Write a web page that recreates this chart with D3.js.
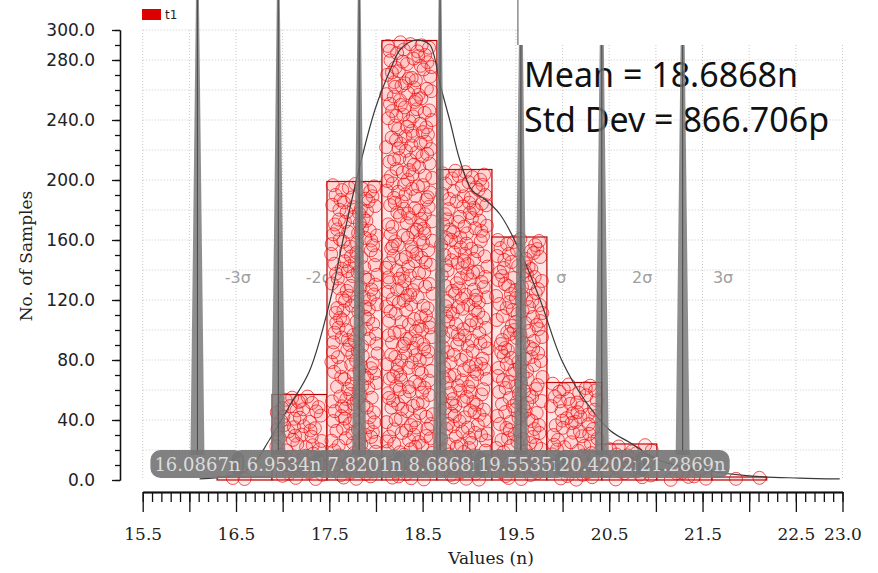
<!DOCTYPE html>
<html><head><meta charset="utf-8">
<script src="https://cdn.jsdelivr.net/npm/d3@7"></script>
<style>body{margin:0;background:#fff;} svg{display:block;}</style>
</head><body>
<svg id="c" width="878" height="573"></svg>
<script>
// ---------- data ----------
const binEdges = [16.297, 16.886, 17.475, 18.064, 18.653, 19.243, 19.832, 20.421, 21.010, 21.599, 22.188];
const binCounts = [2, 57, 199, 293, 207, 162, 65, 24, 7, 2];
const curveX = [16.11, 16.43, 16.65, 16.86, 17.08, 17.29, 17.51, 17.67, 17.83, 17.99, 18.15, 18.26, 18.40, 18.49, 18.58, 18.69, 18.79, 18.90, 19.03, 19.17, 19.33, 19.54, 19.76, 19.99, 20.24, 20.51, 20.72, 21.04, 21.47, 22.00, 22.54, 22.97];
const curveY = [0.7, 2.7, 8, 27, 50, 73, 120, 167, 210, 247, 273, 287, 293, 293, 290, 263, 240, 213, 193, 187, 177, 153, 120, 80, 53, 33, 25, 13, 7, 2.7, 1.3, 0.7];
const sigmaValues = [16.0867, 16.9534, 17.8201, 18.6868, 19.5535, 20.4202, 21.2869];
const sigmaValueLabels = ["16.0867n", "16.9534n", "17.8201n", "18.6868n", "19.5535n", "20.4202n", "21.2869n"];
const sigmaNames = ["-3σ", "-2σ", "-σ", "μ", "σ", "2σ", "3σ"];
const stdDev = 0.866706;
const xTickValues = [15.5, 16.5, 17.5, 18.5, 19.5, 20.5, 21.5, 22.5, 23.0];
const xTickLabels = ["15.5", "16.5", "17.5", "18.5", "19.5", "20.5", "21.5", "22.5", "23.0"];
const yTickValues = [0, 40, 80, 120, 160, 200, 240, 280, 300];
const yTickLabels = ["0.0", "40.0", "80.0", "120.0", "160.0", "200.0", "240.0", "280.0", "300.0"];
const statLines = ["Mean = 18.6868n", "Std Dev = 866.706p"];
const seriesName = "t1";
const xTitle = "Values (n)";
const yTitle = "No. of Samples";

// ---------- layout ----------
const svg = d3.select("#c");
const x = d3.scaleLinear().domain([15.5, 23.0]).range([142.7, 842.5]);
const y = d3.scaleLinear().domain([0, 300]).range([480, 30]);
const serif = "'DejaVu Serif', serif";
const sans = "'DejaVu Sans', sans-serif";

// grid
const grid = svg.append("g");
grid.selectAll("line.v").data(d3.range(15.5, 23.01, 0.5)).join("line")
  .attr("x1", d => x(d)).attr("x2", d => x(d)).attr("y1", y(300)).attr("y2", y(0))
  .attr("stroke", "#c8c8c8").attr("stroke-width", 1).attr("stroke-dasharray", "1,2");
grid.selectAll("line.h").data(d3.range(20, 301, 20)).join("line")
  .attr("x1", x(15.5)).attr("x2", 848).attr("y1", d => y(d)).attr("y2", d => y(d))
  .attr("stroke", "#c8c8c8").attr("stroke-width", 1).attr("stroke-dasharray", "1,2");

// sigma names
svg.append("g").selectAll("text").data(sigmaNames).join("text")
  .attr("x", (d, i) => x(sigmaValues[i] + stdDev / 2)).attr("y", 283)
  .attr("text-anchor", "middle").attr("font-family", sans).attr("font-size", 16)
  .attr("fill", (d) => d === "μ" ? "#333" : "#a0a0a0").text(d => d);

// stats text
svg.append("g").selectAll("text").data(statLines).join("text")
  .attr("x", 524).attr("y", (d, i) => 87 + i * 45)
  .attr("font-family", "'Noto Sans', sans-serif").attr("font-size", 34)
  .attr("fill", "#111").text(d => d);

// bars
const bars = svg.append("g");
bars.selectAll("rect").data(binCounts).join("rect")
  .attr("x", (d, i) => x(binEdges[i])).attr("width", (d, i) => x(binEdges[i + 1]) - x(binEdges[i]))
  .attr("y", d => y(d)).attr("height", d => y(0) - y(d))
  .attr("fill", "#ffe6e6").attr("stroke", "#b00000").attr("stroke-width", 1.2);

// circles (one per sample, spread deterministically inside its bin)
function halton(i, b) { let f = 1, r = 0; while (i > 0) { f /= b; r += f * (i % b); i = Math.floor(i / b); } return r; }
const pts = [];
binCounts.forEach((c, j) => {
  for (let k = 0; k < c; k++) {
    const idx = k + 1 + j * 13;
    pts.push({ j, u: halton(idx, 2), n: halton(idx, 3) * c });
  }
});
bars.selectAll("circle").data(pts).join("circle")
  .attr("cx", d => { const a = x(binEdges[d.j]) + 4, b = x(binEdges[d.j + 1]) - 4; return a + d.u * (b - a); })
  .attr("cy", d => y(d.n)).attr("r", 6.5)
  .attr("fill", "rgba(255,110,110,0.14)").attr("stroke", "rgba(228,0,0,0.72)").attr("stroke-width", 0.9);

// density curve
const curvePts = curveX.map((v, i) => [v, curveY[i]]);
svg.append("path").datum(curvePts)
  .attr("d", d3.line().x(d => x(d[0])).y(d => y(d[1])).curve(d3.curveCatmullRom))
  .attr("fill", "none").attr("stroke", "#3a3a3a").attr("stroke-width", 1.2);

// sigma spikes
const spikes = svg.append("g");
sigmaValues.forEach((v, i) => {
  const px = x(v), top = 0, bot = 455;
  spikes.append("path")
    .attr("d", `M${px - 1.5},${top} L${px + 1.5},${top} L${px + 7},${bot} L${px - 7},${bot} Z`)
    .attr("fill", "#7a7a7a").attr("fill-opacity", 0.85);
  spikes.append("line").attr("x1", px).attr("x2", px).attr("y1", top).attr("y2", bot)
    .attr("stroke", "#4a4a4a").attr("stroke-width", 1);
});

// white box at top right + its edge line
svg.append("rect").attr("x", x(sigmaValues[4]) - 2).attr("y", 0).attr("width", 400).attr("height", 45).attr("fill", "#fff");
svg.append("line").attr("x1", x(sigmaValues[4]) - 3).attr("x2", x(sigmaValues[4]) - 3).attr("y1", 0).attr("y2", 45)
  .attr("stroke", "#555").attr("stroke-width", 1);

// value label boxes, drawn from the centre outward
const order = [3, 2, 4, 1, 5, 0, 6];
const lab = svg.append("g");
order.forEach(i => {
  const g = lab.append("g");
  const t = g.append("text").attr("x", x(sigmaValues[i])).attr("y", 471)
    .attr("text-anchor", "middle").attr("font-family", serif).attr("font-size", 18)
    .attr("fill", "#dcdcdc").text(sigmaValueLabels[i]);
  const w = t.node().getComputedTextLength();
  g.insert("rect", "text").attr("x", x(sigmaValues[i]) - w / 2 - 4).attr("y", 450)
    .attr("width", w + 8).attr("height", 28).attr("rx", 10)
    .attr("fill", "#767676").attr("fill-opacity", 0.92);
});

// x axis
const xAxisG = svg.append("g").attr("transform", "translate(0,492)");
xAxisG.append("g").call(d3.axisBottom(x).tickValues(d3.range(15.5, 23.001, 0.1)).tickSize(10).tickSizeOuter(0).tickFormat(""));
xAxisG.append("g").call(d3.axisBottom(x).tickValues(d3.range(15.5, 23.001, 0.5)).tickSize(20).tickSizeOuter(0).tickFormat(""));
xAxisG.append("g").call(d3.axisBottom(x).tickValues(xTickValues).tickSize(0).tickPadding(36)
  .tickFormat((d, i) => xTickLabels[i]));
xAxisG.selectAll("path.domain").attr("stroke", "#111").attr("stroke-width", 1.3);
xAxisG.selectAll("line").attr("stroke", "#111").attr("stroke-width", 1.3);
xAxisG.selectAll("text").attr("font-family", serif).attr("font-size", 17).attr("fill", "#222");

// y axis
const yAxisG = svg.append("g").attr("transform", "translate(120,0)");
yAxisG.append("g").call(d3.axisLeft(y).tickValues(d3.range(0, 301, 10)).tickSize(5).tickSizeOuter(0).tickFormat(""));
yAxisG.append("g").call(d3.axisLeft(y).tickValues(yTickValues).tickSize(8).tickSizeOuter(0).tickPadding(17)
  .tickFormat((d, i) => yTickLabels[i]));
yAxisG.selectAll("path.domain").attr("stroke", "#111").attr("stroke-width", 1.3);
yAxisG.selectAll("line").attr("stroke", "#111").attr("stroke-width", 1.3);
yAxisG.selectAll("text").attr("font-family", sans).attr("font-size", 17).attr("fill", "#222");

// titles
svg.append("text").attr("x", 491).attr("y", 564).attr("text-anchor", "middle")
  .attr("font-family", serif).attr("font-size", 17).attr("fill", "#222").text(xTitle);
svg.append("text").attr("transform", "translate(32,256) rotate(-90)").attr("text-anchor", "middle")
  .attr("font-family", serif).attr("font-size", 17).attr("fill", "#222").text(yTitle);

// legend
svg.append("rect").attr("x", 142).attr("y", 9).attr("width", 19).attr("height", 11).attr("fill", "#dd0000");
svg.append("text").attr("x", 165).attr("y", 19).attr("font-family", sans).attr("font-size", 12)
  .attr("fill", "#222").text(seriesName);
</script>
</body></html>
